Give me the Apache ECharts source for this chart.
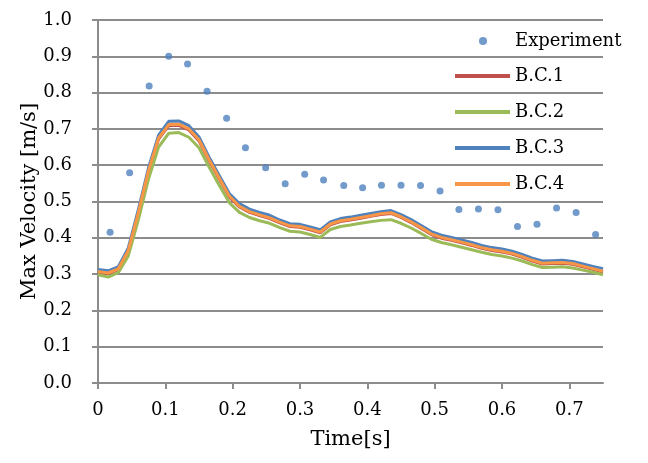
<!DOCTYPE html>
<html>
<head>
<meta charset="utf-8">
<script src="https://cdn.jsdelivr.net/npm/echarts@6.0.0/dist/echarts.min.js"></script>
<style>
  html, body { margin: 0; padding: 0; background: #fff; }
  #chart { width: 648px; height: 463px; }
</style>
</head>
<body>
<div id="chart"></div>
<script>
// 実験値
const expTime = [0.018, 0.047, 0.076, 0.105, 0.133, 0.162, 0.191, 0.219, 0.249, 0.278, 0.307, 0.335, 0.365,
  0.393, 0.421, 0.450, 0.479, 0.508, 0.536, 0.565, 0.594, 0.623, 0.652, 0.681, 0.710, 0.739];
const expVel = [0.415, 0.579, 0.818, 0.900, 0.879, 0.804, 0.729, 0.648, 0.593, 0.549, 0.575, 0.559, 0.544,
  0.538, 0.545, 0.545, 0.544, 0.529, 0.478, 0.479, 0.477, 0.431, 0.437, 0.482, 0.470, 0.409];

// 計算値の時刻
const simTime = [0, 0.015, 0.03, 0.045, 0.06, 0.075, 0.09, 0.105, 0.12, 0.135, 0.15, 0.165, 0.18, 0.195,
  0.21, 0.225, 0.24, 0.255, 0.27, 0.285, 0.30, 0.315, 0.33, 0.345, 0.36, 0.375, 0.39, 0.405, 0.42, 0.435,
  0.45, 0.465, 0.48, 0.495, 0.51, 0.525, 0.54, 0.555, 0.57, 0.585, 0.60, 0.615, 0.63, 0.645, 0.66, 0.675,
  0.69, 0.705, 0.72, 0.735, 0.75];

const bc1 = [0.305, 0.301, 0.312, 0.363, 0.467, 0.582, 0.672, 0.709, 0.710, 0.697, 0.667, 0.612, 0.562, 0.512,
  0.485, 0.470, 0.461, 0.453, 0.441, 0.431, 0.429, 0.422, 0.414, 0.436, 0.445, 0.449, 0.454, 0.459, 0.464, 0.467,
  0.456, 0.442, 0.426, 0.409, 0.399, 0.393, 0.386, 0.379, 0.371, 0.365, 0.361, 0.355, 0.346, 0.336, 0.328, 0.329,
  0.330, 0.327, 0.320, 0.313, 0.306];
const bc2 = [0.298, 0.292, 0.304, 0.350, 0.450, 0.562, 0.650, 0.688, 0.690, 0.677, 0.648, 0.595, 0.545, 0.497,
  0.470, 0.456, 0.447, 0.440, 0.428, 0.418, 0.416, 0.409, 0.401, 0.423, 0.431, 0.435, 0.440, 0.444, 0.448, 0.450,
  0.440, 0.427, 0.412, 0.396, 0.387, 0.381, 0.374, 0.367, 0.360, 0.354, 0.350, 0.344, 0.336, 0.326, 0.318, 0.319,
  0.320, 0.317, 0.311, 0.305, 0.298];
const bc3 = [0.313, 0.309, 0.320, 0.372, 0.478, 0.593, 0.683, 0.721, 0.722, 0.709, 0.678, 0.622, 0.572, 0.522,
  0.494, 0.479, 0.470, 0.462, 0.449, 0.439, 0.437, 0.430, 0.422, 0.444, 0.453, 0.457, 0.462, 0.467, 0.472, 0.475,
  0.464, 0.450, 0.434, 0.417, 0.407, 0.401, 0.394, 0.387, 0.379, 0.373, 0.369, 0.363, 0.354, 0.344, 0.336, 0.337,
  0.338, 0.335, 0.328, 0.321, 0.315];
const bc4 = [0.307, 0.303, 0.314, 0.365, 0.470, 0.585, 0.675, 0.712, 0.713, 0.700, 0.670, 0.615, 0.565, 0.515,
  0.487, 0.472, 0.463, 0.455, 0.443, 0.433, 0.431, 0.424, 0.416, 0.438, 0.447, 0.451, 0.456, 0.461, 0.466, 0.469,
  0.458, 0.444, 0.428, 0.411, 0.401, 0.395, 0.388, 0.381, 0.373, 0.367, 0.363, 0.357, 0.348, 0.338, 0.330, 0.331,
  0.332, 0.329, 0.322, 0.315, 0.308];

const xTicks = [0, 0.1, 0.2, 0.3, 0.4, 0.5, 0.6, 0.7];

const FONT = 'DejaVu Serif';
const GRID_COLOR = '#8c8c8c';

function pairs(xs, ys) {
  return xs.map((x, i) => [x, ys[i]]);
}

function lineSeries(name, color, values) {
  return {
    name: name,
    type: 'line',
    data: pairs(simTime, values),
    symbol: 'none',
    lineStyle: { color: color, width: 3 },
    itemStyle: { color: color }
  };
}

const chart = echarts.init(document.getElementById('chart'), null, { renderer: 'canvas' });

const option = {
  animation: false,
  backgroundColor: '#fff',
  textStyle: { fontFamily: FONT, color: '#000' },
  grid: { left: 98, top: 20, width: 505, height: 363 },
  legend: [
    {
      // 丸マーカーは線の凡例の中央に合わせ、文字は右へずらす
      data: ['Experiment'],
      left: 479,
      top: 32,
      padding: 0,
      itemWidth: 8,
      itemHeight: 8,
      icon: 'circle',
      textStyle: { fontFamily: FONT, fontSize: 18, color: '#000', padding: [0, 0, 0, 23] }
    },
    {
      data: ['B.C.1', 'B.C.2', 'B.C.3', 'B.C.4'],
      orient: 'vertical',
      left: 455,
      top: 65,
      padding: 0,
      itemWidth: 55,
      itemHeight: 4,
      itemGap: 14,
      icon: 'rect',
      textStyle: { fontFamily: FONT, fontSize: 18, color: '#000', lineHeight: 22 }
    }
  ],
  xAxis: {
    type: 'value',
    min: 0,
    max: 0.75,
    interval: 0.1,
    name: 'Time[s]',
    nameLocation: 'middle',
    nameGap: 46,
    nameMoveOverlap: false,
    nameTextStyle: { fontFamily: FONT, fontSize: 21, color: '#000' },
    axisLine: { show: true, lineStyle: { color: GRID_COLOR, width: 2 } },
    axisTick: { show: true, inside: false, length: 6, lineStyle: { color: GRID_COLOR, width: 2 }, customValues: xTicks },
    axisLabel: {
      fontFamily: FONT, fontSize: 18, color: '#000', margin: 18,
      customValues: xTicks,
      formatter: v => (v === 0 ? '0' : v.toFixed(1))
    },
    splitLine: { show: false }
  },
  yAxis: {
    type: 'value',
    min: 0,
    max: 1,
    interval: 0.1,
    name: 'Max Velocity [m/s]',
    nameLocation: 'middle',
    nameGap: 58,
    nameMoveOverlap: false,
    nameTextStyle: { fontFamily: FONT, fontSize: 21, color: '#000' },
    axisLine: { show: true, lineStyle: { color: GRID_COLOR, width: 2 } },
    axisTick: { show: true, inside: false, length: 6, lineStyle: { color: GRID_COLOR, width: 2 } },
    axisLabel: {
      fontFamily: FONT, fontSize: 18, color: '#000', margin: 26,
      formatter: v => v.toFixed(1)
    },
    splitLine: { show: true, lineStyle: { color: GRID_COLOR, width: 2 } }
  },
  series: [
    {
      name: 'Experiment',
      type: 'scatter',
      data: pairs(expTime, expVel),
      symbol: 'circle',
      symbolSize: 7,
      itemStyle: { color: '#4f81bd' }
    },
    lineSeries('B.C.1', '#c0504d', bc1),
    lineSeries('B.C.2', '#9bbb59', bc2),
    lineSeries('B.C.3', '#4f81bd', bc3),
    lineSeries('B.C.4', '#f79646', bc4)
  ]
};

chart.setOption(option);
</script>
</body>
</html>
